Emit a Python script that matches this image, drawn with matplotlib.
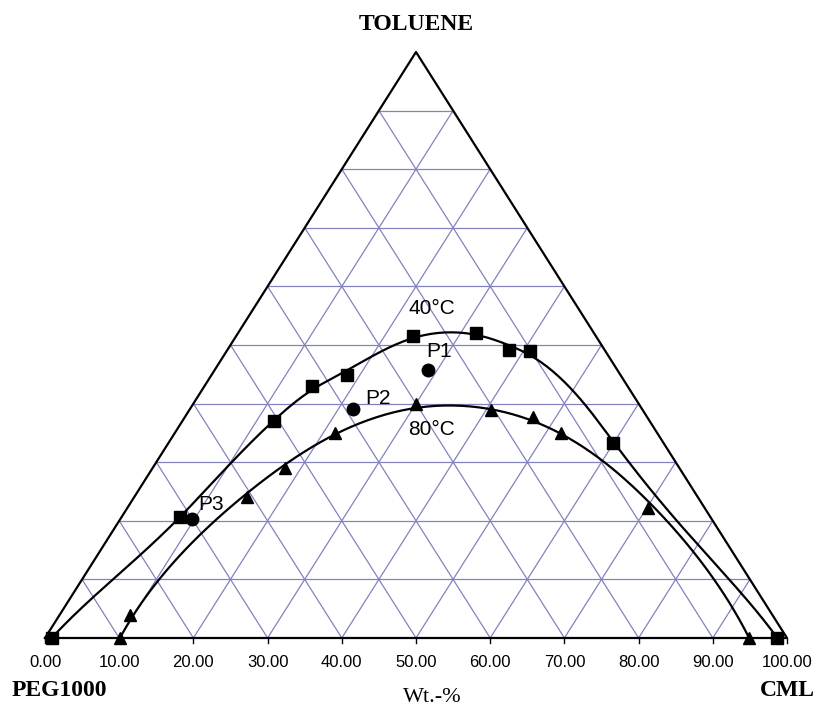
import numpy as np
import matplotlib.pyplot as plt

# compositions in wt.-% (toluene, CML); PEG1000 is the rest
tol_40 = [0.0, 20.6, 37.0, 43.0, 44.9, 51.5, 52.0, 49.1, 49.0, 33.3, 0.0]
cml_40 = [0.9, 7.9, 12.4, 14.5, 18.2, 23.9, 32.1, 38.0, 40.9, 59.9, 98.7]

tol_80 = [0.0, 3.9, 24.1, 29.0, 35.0, 39.9, 38.9, 37.7, 35.0, 22.2, 0.0]
cml_80 = [10.1, 9.5, 15.2, 17.8, 21.6, 30.0, 40.7, 46.9, 52.0, 70.2, 94.9]

pt_names = ['P1', 'P2', 'P3']
tol_pts = [45.7, 39.1, 20.3]
cml_pts = [28.8, 22.0, 9.7]

tick_vals = np.arange(0, 101, 10)

SX, SY = 7.42, 5.86  # px per % along x and y


def to_xy(tol, cml):
    tol = np.asarray(tol, float)
    cml = np.asarray(cml, float)
    return cml + tol / 2.0, tol


def smooth_curve(x, y, y0=-50, target=3.0, n=300):
    # penalised smoothing of radius vs. angle around a point below the base
    X = (x - 50) * SX
    Y = (y - y0) * SY
    th = np.arctan2(Y, X)
    r = np.hypot(X, Y)
    order = np.argsort(th)
    th, r = th[order], r[order]
    tt = np.linspace(th[0], th[-1], n)
    idx = np.clip(np.searchsorted(tt, th) - 1, 0, n - 2)
    f = (th - tt[idx]) / (tt[idx + 1] - tt[idx])
    m = len(th)
    B = np.zeros((m, n))
    B[np.arange(m), idx] = 1 - f
    B[np.arange(m), idx + 1] += f
    w = np.ones(m)
    w[0] = w[-1] = 100  # keep the ends on the base
    D = np.diff(np.eye(n), 2, axis=0)
    BtWB = B.T @ (w[:, None] * B)
    BtWr = B.T @ (w * r)
    DtD = D.T @ D
    best = None
    for lam in np.logspace(-1, 12, 131):
        rr = np.linalg.solve(BtWB + lam * DtD, BtWr)
        res = np.sqrt(np.mean((B @ rr - r)[1:-1] ** 2))
        if res > target and best is not None:
            break
        best = rr
    return best * np.cos(tt) / SX + 50, np.clip(best * np.sin(tt) / SY + y0, 0, None)


fig = plt.figure(figsize=(8.17, 7.05), dpi=100)
W, H = 817, 705
ax = fig.add_axes([45 / W, (H - 638) / H, 742 / W, 586 / H])
ax.set_xlim(0, 100)
ax.set_ylim(0, 100)
ax.axis('off')

grid_c = '#8282c0'
for k in range(10, 100, 10):
    # toluene = const
    ax.plot([k / 2, 100 - k / 2], [k, k], color=grid_c, lw=0.9, zorder=1)
    # cml = const
    ax.plot([k, k + (100 - k) / 2], [0, 100 - k], color=grid_c, lw=0.9, zorder=1)
    # peg = const
    ax.plot([100 - k, (100 - k) / 2], [0, 100 - k], color=grid_c, lw=0.9, zorder=1)

ax.plot([0, 100, 50, 0], [0, 0, 100, 0], color='black', lw=1.6, zorder=3, clip_on=False)

for v in tick_vals:
    ax.plot([v, v], [0, -0.8], color='black', lw=1.0, clip_on=False)
    ax.text(v, -4.2, f'{v:.2f}', ha='center', va='center', fontsize=12,
            family='Liberation Sans')

for tol, cml, mk in [(tol_40, cml_40, 's'), (tol_80, cml_80, '^')]:
    x, y = to_xy(tol, cml)
    xs, ys = smooth_curve(x, y)
    ax.plot(xs, ys, color='black', lw=1.6, zorder=4, clip_on=False)
    ax.plot(x, y, mk, color='black', ms=8.5 if mk == 's' else 9, zorder=5, clip_on=False)

px, py = to_xy(tol_pts, cml_pts)
ax.plot(px, py, 'o', color='black', ms=9, zorder=5)

lab_font = dict(fontsize=15, family='Liberation Sans', ha='center', va='center')
ax.text(52.1, 56.3, '40°C', **lab_font)
ax.text(52.1, 35.5, '80°C', **lab_font)
ax.text(53.1, 48.9, 'P1', **lab_font)
ax.text(44.9, 40.9, 'P2', **lab_font)
ax.text(22.4, 22.7, 'P3', **lab_font)

fig.text(416 / W, 1 - 24 / H, 'TOLUENE', ha='center', va='center', fontsize=17,
         fontweight='bold', family='Liberation Serif')
fig.text(12 / W, 1 - 690 / H, 'PEG1000', ha='left', va='center', fontsize=17,
         fontweight='bold', family='Liberation Serif')
fig.text(815 / W, 1 - 690 / H, 'CML', ha='right', va='center', fontsize=17,
         fontweight='bold', family='Liberation Serif')
fig.text(432 / W, 1 - 697 / H, 'Wt.-%', ha='center', va='center', fontsize=16,
         family='Liberation Serif')

fig.savefig('out.png', dpi=100)
